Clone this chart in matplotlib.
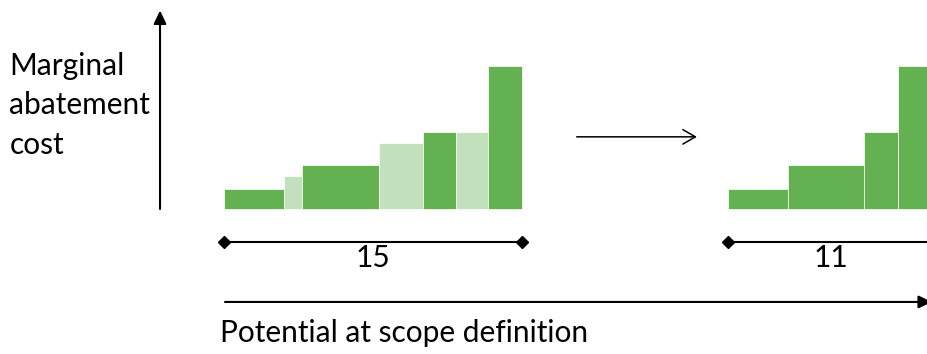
import matplotlib
matplotlib.use("Agg")
import matplotlib.pyplot as plt
from matplotlib.patches import FancyArrowPatch

# Marginal abatement cost curve at scope definition: levers in order of cost
widths = [3.0, 0.95, 3.85, 2.2, 1.7, 1.6, 1.7]      # abatement potential
costs = [1.85, 3.0, 4.0, 6.0, 7.0, 7.0, 13.0]       # marginal cost
retained = [True, False, True, False, True, False, True]

total_label = "15"
retained_label = "11"
y_label = "Marginal\nabatement\ncost"
x_label = "Potential at scope definition"

DARK = "#64B151"
LIGHT = "#C3E0BC"
FS = 21.5

plt.rcParams["font.family"] = ["Lato", "DejaVu Sans"]

fig = plt.figure(figsize=(9.28, 3.54), dpi=100)
ax = fig.add_axes([0, 0, 1, 1])
ax.set_axis_off()

# Horizontal: 19.87 px per unit of potential; vertical: 11 px per cost unit
ax.set_xlim(-224 / 19.87, (928 - 224) / 19.87)
ax.set_ylim(-(354 - 209) / 11, 209 / 11)

# Left curve: all levers, dropped ones in light green
lefts = []
pos = 0.0
for w in widths:
    lefts.append(pos)
    pos += w
colors = [DARK if keep else LIGHT for keep in retained]
ax.bar(lefts, costs, width=widths, align="edge", color=colors,
       edgecolor="white", linewidth=0.5)

# Right curve: only the retained levers, starting further right
x0 = (728.3 - 224) / 19.87
kept_w = [w for w, k in zip(widths, retained) if k]
kept_c = [c for c, k in zip(costs, retained) if k]
kept_l = []
pos = x0
for w in kept_w:
    kept_l.append(pos)
    pos += w
ax.bar(kept_l, kept_c, width=kept_w, align="edge", color=DARK,
       edgecolor="white", linewidth=0.5)

# Vertical cost axis
ax.add_patch(FancyArrowPatch((-3.22, 0), (-3.22, 18.05),
                             arrowstyle="-|>,head_length=8,head_width=3.8",
                             mutation_scale=1, color="black", lw=1.5,
                             shrinkA=0, shrinkB=0))
ax.text(-10.8, 9.45, y_label, ha="left", va="center", fontsize=FS,
        linespacing=1.5)

# Transition arrow between the two curves
ax.add_patch(FancyArrowPatch((17.75, 6.56), (23.8, 6.56),
                             arrowstyle="->,head_length=9,head_width=5.2",
                             mutation_scale=1, color="black", lw=1.1,
                             shrinkA=0, shrinkB=0))

# Span brackets
yb = -2.97
total = sum(widths)
ax.plot([0, total], [yb, yb], color="black", lw=1.5, marker="D",
        markersize=6, solid_capstyle="butt")
ax.text(total / 2, -4.45, total_label, ha="center", va="center", fontsize=FS)

span = float(retained_label)
ax.plot([x0, x0 + span], [yb, yb], color="black", lw=1.5, marker="D",
        markersize=6, solid_capstyle="butt")
ax.text(x0 + span / 2 - 0.35, -4.45, retained_label, ha="center", va="center",
        fontsize=FS)

# Potential axis
ax.add_patch(FancyArrowPatch((0.05, -8.45), ((932 - 224) / 19.87, -8.45),
                             arrowstyle="-|>,head_length=8,head_width=3.8",
                             mutation_scale=1, color="black", lw=1.5,
                             shrinkA=0, shrinkB=0))
ax.text(-0.2, -11.3, x_label, ha="left", va="center", fontsize=FS)

fig.savefig("out.png", dpi=100)
